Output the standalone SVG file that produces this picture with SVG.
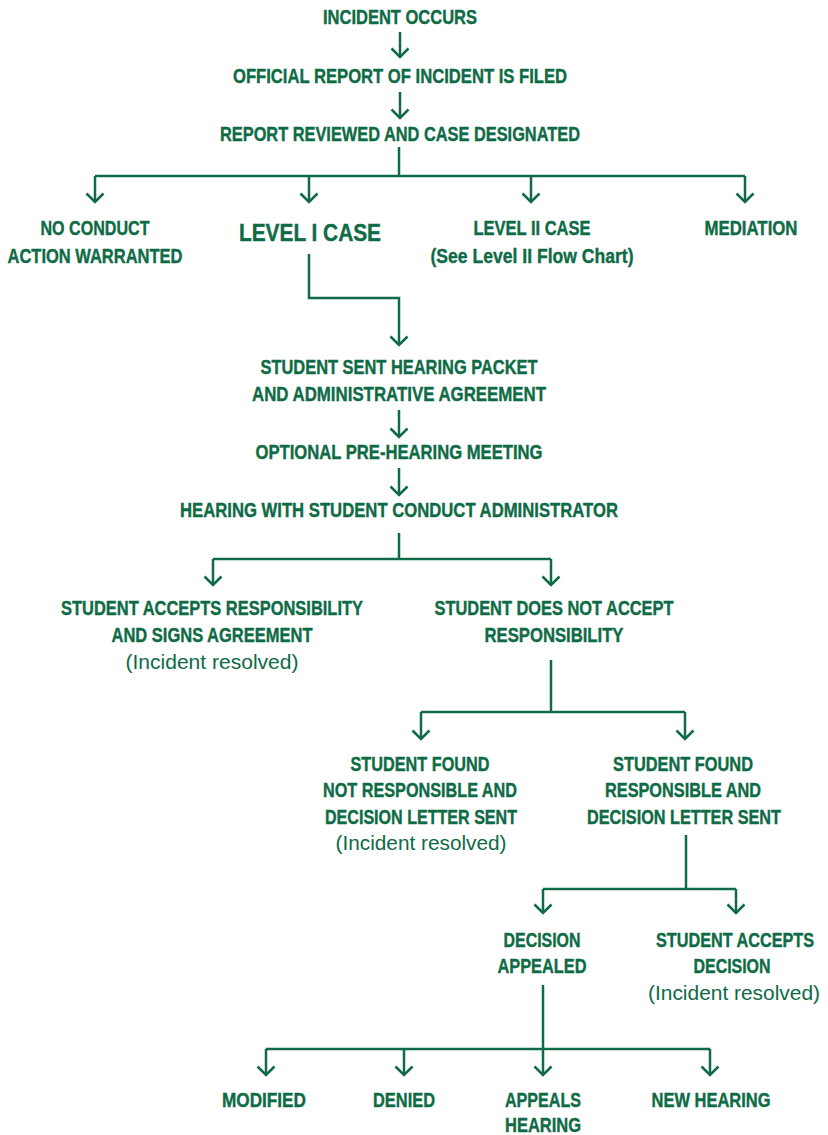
<svg xmlns="http://www.w3.org/2000/svg" width="828" height="1135" viewBox="0 0 828 1135">
<style>
.t{font-family:"Liberation Sans",Arial,sans-serif;font-weight:bold;font-size:21px;fill:#0e6b45;stroke:#0e6b45;stroke-width:0.4;text-anchor:middle}
.big{font-size:24.5px}
.r{font-weight:normal;font-size:20px;stroke:none}
.c{fill:none;stroke:#0e6b45;stroke-width:2.5}
</style>
<defs>
<marker id="ah" markerUnits="userSpaceOnUse" viewBox="-10 -10 12 20" refX="0" refY="0" markerWidth="12" markerHeight="20" orient="auto" overflow="visible">
<path d="M-8.5,-8.5 L0,0 L-8.5,8.5" fill="none" stroke="#0e6b45" stroke-width="2.5" stroke-linejoin="miter"/>
</marker>
</defs>
<rect width="828" height="1135" fill="#ffffff"/>
<g id="connectors" class="c">
<path d="M400,32 V57" marker-end="url(#ah)"/>
<path d="M400,92 V118" marker-end="url(#ah)"/>
<path d="M399,147 V176 M95,176 H745"/>
<path d="M95,176 V202" marker-end="url(#ah)"/>
<path d="M309,176 V202" marker-end="url(#ah)"/>
<path d="M531,176 V202" marker-end="url(#ah)"/>
<path d="M745,176 V202" marker-end="url(#ah)"/>
<path d="M309,254 V298 H399 V345" marker-end="url(#ah)"/>
<path d="M399,410 V437" marker-end="url(#ah)"/>
<path d="M399,468 V495" marker-end="url(#ah)"/>
<path d="M399,533 V559 M213,559 H551"/>
<path d="M213,559 V585" marker-end="url(#ah)"/>
<path d="M551,559 V585" marker-end="url(#ah)"/>
<path d="M551,660 V712 M421,712 H685"/>
<path d="M421,712 V739" marker-end="url(#ah)"/>
<path d="M685,712 V739" marker-end="url(#ah)"/>
<path d="M686,835 V889 M543,889 H736"/>
<path d="M543,889 V913" marker-end="url(#ah)"/>
<path d="M736,889 V913" marker-end="url(#ah)"/>
<path d="M543,985 V1049 M266,1049 H710"/>
<path d="M266,1049 V1075" marker-end="url(#ah)"/>
<path d="M404,1049 V1075" marker-end="url(#ah)"/>
<path d="M543,1049 V1075" marker-end="url(#ah)"/>
<path d="M710,1049 V1075" marker-end="url(#ah)"/>
</g>
<g id="incident" class="t"><text x="400" y="24" textLength="154" lengthAdjust="spacingAndGlyphs">INCIDENT OCCURS</text></g>
<g id="report-filed" class="t"><text x="400" y="83" textLength="334" lengthAdjust="spacingAndGlyphs">OFFICIAL REPORT OF INCIDENT IS FILED</text></g>
<g id="report-reviewed" class="t"><text x="400" y="141" textLength="360" lengthAdjust="spacingAndGlyphs">REPORT REVIEWED AND CASE DESIGNATED</text></g>
<g id="no-conduct" class="t">
<text x="95" y="235" textLength="109" lengthAdjust="spacingAndGlyphs">NO CONDUCT</text>
<text x="95" y="263" textLength="175" lengthAdjust="spacingAndGlyphs">ACTION WARRANTED</text>
</g>
<g id="level1" class="t"><text class="big" x="310" y="241" textLength="142" lengthAdjust="spacingAndGlyphs">LEVEL I CASE</text></g>
<g id="level2" class="t">
<text x="532" y="235" textLength="117" lengthAdjust="spacingAndGlyphs">LEVEL II CASE</text>
<text x="532" y="263" textLength="203" lengthAdjust="spacingAndGlyphs">(See Level II Flow Chart)</text>
</g>
<g id="mediation" class="t"><text x="751" y="235" textLength="93" lengthAdjust="spacingAndGlyphs">MEDIATION</text></g>
<g id="packet" class="t">
<text x="399" y="374" textLength="277" lengthAdjust="spacingAndGlyphs">STUDENT SENT HEARING PACKET</text>
<text x="399" y="401" textLength="294" lengthAdjust="spacingAndGlyphs">AND ADMINISTRATIVE AGREEMENT</text>
</g>
<g id="prehearing" class="t"><text x="399" y="459" textLength="287" lengthAdjust="spacingAndGlyphs">OPTIONAL PRE-HEARING MEETING</text></g>
<g id="hearing" class="t"><text x="399" y="517" textLength="438" lengthAdjust="spacingAndGlyphs">HEARING WITH STUDENT CONDUCT ADMINISTRATOR</text></g>
<g id="accepts" class="t">
<text x="212" y="615" textLength="302" lengthAdjust="spacingAndGlyphs">STUDENT ACCEPTS RESPONSIBILITY</text>
<text x="212" y="642" textLength="201" lengthAdjust="spacingAndGlyphs">AND SIGNS AGREEMENT</text>
<text class="r" x="212" y="669" textLength="173" lengthAdjust="spacingAndGlyphs">(Incident resolved)</text>
</g>
<g id="not-accept" class="t">
<text x="554" y="615" textLength="239" lengthAdjust="spacingAndGlyphs">STUDENT DOES NOT ACCEPT</text>
<text x="554" y="642" textLength="139" lengthAdjust="spacingAndGlyphs">RESPONSIBILITY</text>
</g>
<g id="not-responsible" class="t">
<text x="420" y="771" textLength="139" lengthAdjust="spacingAndGlyphs">STUDENT FOUND</text>
<text x="420" y="797" textLength="194" lengthAdjust="spacingAndGlyphs">NOT RESPONSIBLE AND</text>
<text x="421" y="824" textLength="192" lengthAdjust="spacingAndGlyphs">DECISION LETTER SENT</text>
<text class="r" x="421" y="850" textLength="171" lengthAdjust="spacingAndGlyphs">(Incident resolved)</text>
</g>
<g id="responsible" class="t">
<text x="683" y="771" textLength="140" lengthAdjust="spacingAndGlyphs">STUDENT FOUND</text>
<text x="683" y="797" textLength="156" lengthAdjust="spacingAndGlyphs">RESPONSIBLE AND</text>
<text x="684" y="824" textLength="194" lengthAdjust="spacingAndGlyphs">DECISION LETTER SENT</text>
</g>
<g id="appealed" class="t">
<text x="542" y="947" textLength="77" lengthAdjust="spacingAndGlyphs">DECISION</text>
<text x="542" y="973" textLength="89" lengthAdjust="spacingAndGlyphs">APPEALED</text>
</g>
<g id="accepts-decision" class="t">
<text x="735" y="947" textLength="158" lengthAdjust="spacingAndGlyphs">STUDENT ACCEPTS</text>
<text x="732" y="973" textLength="77" lengthAdjust="spacingAndGlyphs">DECISION</text>
<text class="r" x="734" y="1000" textLength="172" lengthAdjust="spacingAndGlyphs">(Incident resolved)</text>
</g>
<g id="modified" class="t"><text x="264" y="1107" textLength="84" lengthAdjust="spacingAndGlyphs">MODIFIED</text></g>
<g id="denied" class="t"><text x="404" y="1107" textLength="62" lengthAdjust="spacingAndGlyphs">DENIED</text></g>
<g id="appeals-hearing" class="t">
<text x="543" y="1107" textLength="76" lengthAdjust="spacingAndGlyphs">APPEALS</text>
<text x="543" y="1132" textLength="76" lengthAdjust="spacingAndGlyphs">HEARING</text>
</g>
<g id="new-hearing" class="t"><text x="711" y="1107" textLength="119" lengthAdjust="spacingAndGlyphs">NEW HEARING</text></g>
</svg>
